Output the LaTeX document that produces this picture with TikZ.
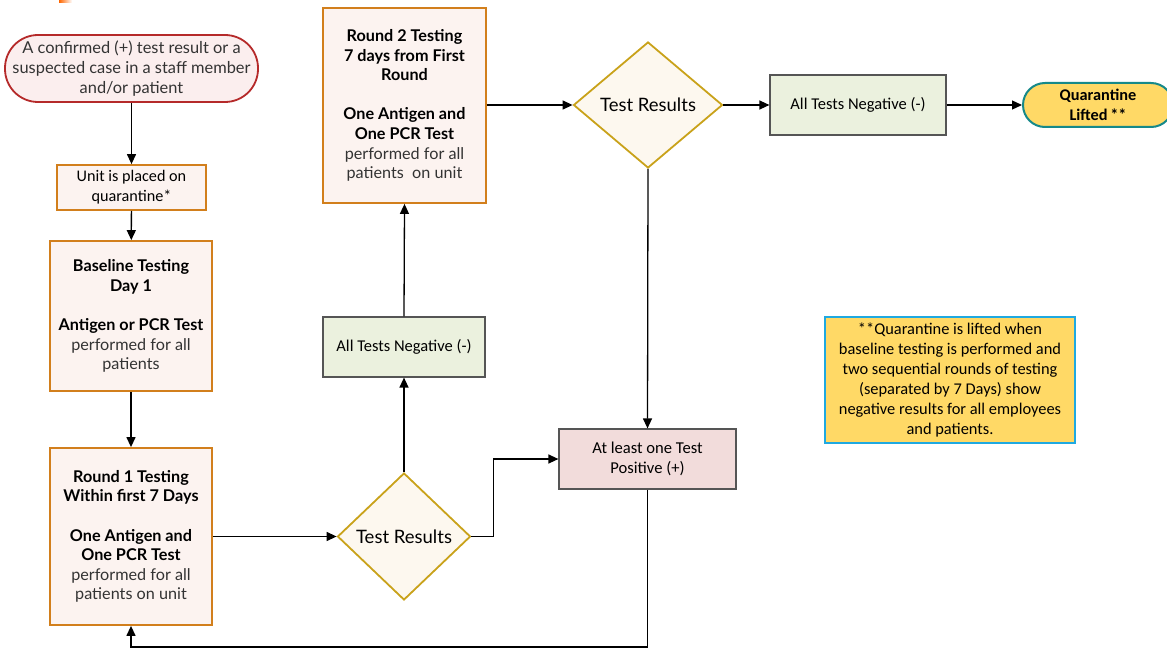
\documentclass[tikz,border=0pt]{standalone}
\usepackage{fontspec}
\setmainfont{Lato}
\newfontfamily\calfont{Carlito}
\usetikzlibrary{arrows.meta,shapes.geometric}
\definecolor{obord}{HTML}{D27F1C}
\definecolor{ofill}{HTML}{FCF3F0}
\definecolor{rbord}{HTML}{B52A2A}
\definecolor{rfill}{HTML}{FBEEEE}
\definecolor{dbord}{HTML}{C9A21A}
\definecolor{dfill}{HTML}{FDF8EF}
\definecolor{gfill}{HTML}{EBF1DE}
\definecolor{pfill}{HTML}{F2DCDB}
\definecolor{yfill}{HTML}{FFD966}
\definecolor{tbord}{HTML}{16898A}
\definecolor{bbord}{HTML}{1FA9E1}
\definecolor{gtext}{HTML}{333333}
\definecolor{bline}{HTML}{555555}
\tikzset{
  arr/.style={line width=1.3pt,-{Triangle[length=10pt,width=9pt]}},
  obox/.style={draw=obord,fill=ofill,line width=1.8pt,align=center,inner sep=0pt,
    font=\fontsize{16.2}{19.6}\selectfont},
  dia/.style={diamond,draw=dbord,fill=dfill,line width=1.8pt,inner sep=0pt,
    font=\fontsize{18.5}{20}\selectfont},
  gbox/.style={draw=bline,fill=gfill,line width=1.2pt,align=center,
    font=\calfont\fontsize{16.5}{20}\selectfont},
}
\newcommand{\gt}[1]{{\color{gtext}#1}}
\begin{document}
\begin{tikzpicture}[x=1pt,y=-1pt]
\useasboundingbox (0,0) rectangle (1167,650);
\fill[left color=orange!80!red,right color=white] (59,0) rectangle (72,3);
% nodes
\node[draw=rbord,fill=rfill,line width=1.8pt,rounded corners=33pt,minimum width=253pt,minimum height=67pt,
  align=center,font=\fontsize{16.4}{20}\selectfont,inner sep=0pt] (start) at (131.5,68.5)
  {\gt{A confirmed (+) test result or a}\\\gt{suspected case in a staff member}\\\gt{and/or patient}};
\node[obox,minimum width=149pt,minimum height=45pt,font=\calfont\fontsize{16.2}{20}\selectfont] (unit) at (131.5,187.5)
  {Unit is placed on\\quarantine*};
\node[obox,minimum width=162pt,minimum height=150pt] (base) at (131,316)
  {\textbf{Baseline Testing}\\\textbf{Day 1}\\[19.6pt]\textbf{Antigen or PCR Test}\\\gt{performed for all}\\\gt{patients}};
\node[obox,minimum width=162pt,minimum height=177pt] (r1) at (131,536.5)
  {\textbf{Round 1 Testing}\\\textbf{Within first 7 Days}\\[19.6pt]\textbf{One Antigen and}\\\textbf{One PCR Test}\\\gt{performed for all}\\\gt{patients on unit}};
\node[dia,minimum width=133pt,minimum height=127pt] (d1) at (404,536.5) {Test Results};
\node[gbox,minimum width=162pt,minimum height=60pt] (neg1) at (404,347) {All Tests Negative (-)};
\node[obox,minimum width=163pt,minimum height=195pt] (r2) at (404.5,105.5)
  {\textbf{Round 2 Testing}\\\textbf{7 days from First}\\\textbf{Round}\\[19.6pt]\textbf{One Antigen and}\\\textbf{One PCR Test}\\\gt{performed for all}\\\gt{patients\ \ on unit}};
\node[dia,minimum width=149pt,minimum height=126pt] (d2) at (648,105) {Test Results};
\node[gbox,minimum width=176pt,minimum height=60pt] (neg2) at (858,105) {All Tests Negative (-)};
\node[draw=tbord,fill=yfill,line width=2pt,rounded corners=22pt,minimum width=150pt,minimum height=44pt,
  align=center,inner sep=0pt,font=\calfont\bfseries\fontsize{16.3}{20}\selectfont] (ql) at (1098,105)
  {Quarantine\\Lifted\,**};
\node[draw=bline,fill=pfill,line width=1.2pt,minimum width=177pt,minimum height=60pt,align=center,
  font=\calfont\fontsize{16.6}{20}\selectfont] (pos) at (647.5,459) {At least one Test\\Positive (+)};
\node[draw=bbord,fill=yfill,line width=2pt,minimum width=250pt,minimum height=126pt,align=center,inner sep=0pt,
  font=\calfont\fontsize{16.4}{20}\selectfont] (note) at (950,380)
  {**Quarantine is lifted when\\baseline testing is performed and\\two sequential rounds of testing\\(separated by 7 Days) show\\negative results for all employees\\and patients.};
% connectors
\coordinate (bl) at (131,647);
\draw[arr] (start) -- (unit);
\draw[arr] (unit) -- (base);
\draw[arr] (base) -- (r1);
\draw[arr] (r1.east) -- (d1.west);
\draw[arr] (d1.north) -- (neg1.south);
\draw[arr] (neg1.north) -- (r2.south);
\draw[arr] (r2.east |- d2.west) -- (d2.west);
\draw[arr] (d2.east) -- (neg2.west);
\draw[arr] (neg2.east) -- (ql.west);
\draw[arr] (d2.south) -- (pos.north);
\draw[arr] (d1.east) -- ++(22,0) |- (pos.west);
\draw[arr] (pos.south) |- (bl) -- (r1.south);
\end{tikzpicture}
\end{document}
